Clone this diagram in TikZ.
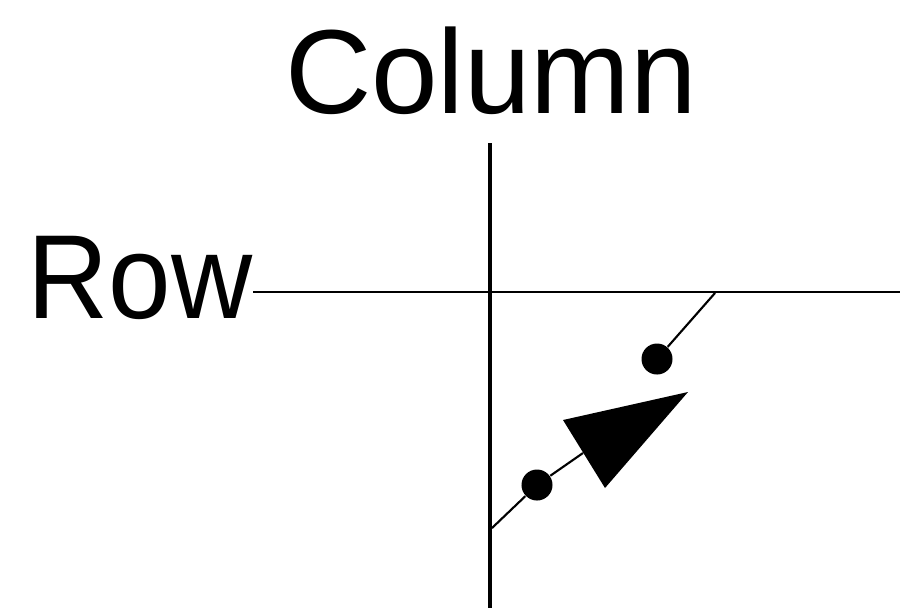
\documentclass[tikz,border=0pt]{standalone}
\usepackage{fontspec}
\setmainfont{Liberation Sans}
\begin{document}
\begin{tikzpicture}[x=0.01cm,y=-0.01cm,
        axislabel/.style={inner sep=0pt, font=\fontsize{34}{40}\selectfont},
        dotmark/.style={circle, fill=black, inner sep=0pt, minimum size=0.31cm}]
    \useasboundingbox (0,0) rectangle (900,608);
    % labels
    \node[axislabel, anchor=base] (colname) at (491,113) {Column};
    \node[axislabel, anchor=base east] (rowname) at (253,318) {\scalebox{0.94}[1]{Row}};
    % axes
    \coordinate (coltop) at (490,143);
    \coordinate (colbot) at (490,608);
    \coordinate (rowend) at (900,292);
    \draw[line width=1pt] (coltop) -- (colbot);
    \draw[line width=0.75pt] (rowname.east |- rowend) -- (rowend);

    % moving point
    \coordinate (ptop) at (715,293);
    \coordinate (pbot) at (492,528);
    \coordinate (tribase) at (583,453);
    \node[dotmark] (d1) at (657,359) {};
    \node[dotmark] (d2) at (537,485) {};
    \draw[line width=0.6pt] (ptop) -- (d1);
    \draw[line width=0.6pt] (pbot) -- (d2) -- (tribase);
    \fill (563,420) -- (688,392) -- (605,488) -- cycle;
\end{tikzpicture}
\end{document}
